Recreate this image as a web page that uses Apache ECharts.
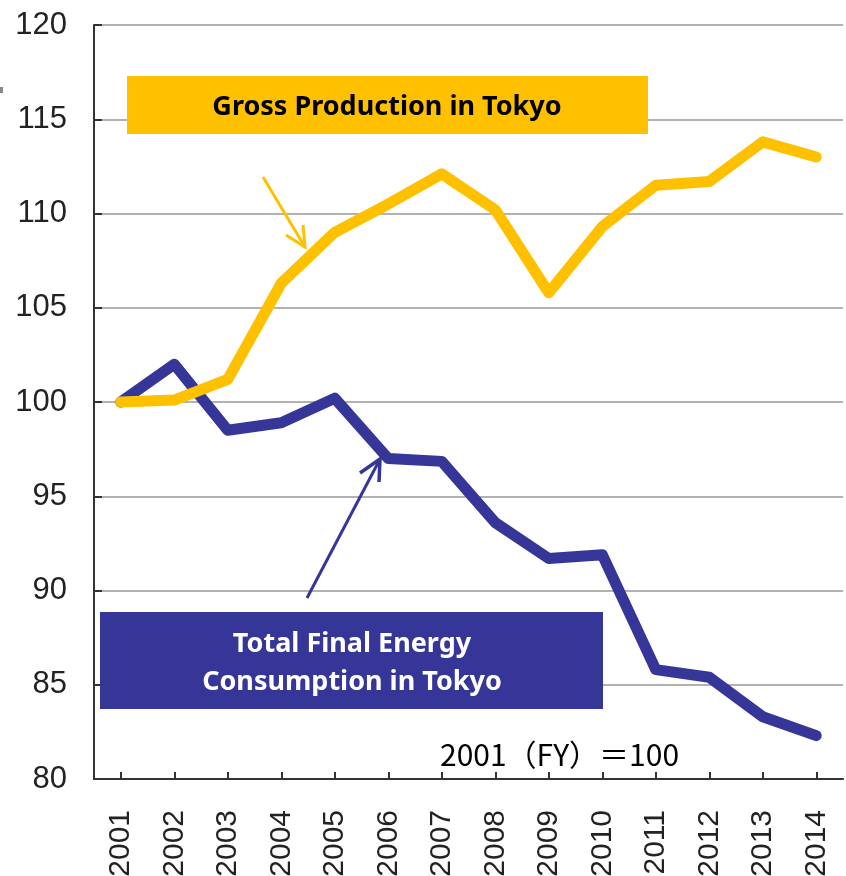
<!DOCTYPE html>
<html>
<head>
<meta charset="utf-8">
<style>
    html, body { margin: 0; padding: 0; background: #fff; }
    #main { width: 846px; height: 876px; }
</style>
<script src="https://cdn.jsdelivr.net/npm/echarts@6/dist/echarts.min.js"></script>
</head>
<body>
<div id="main"></div>
<script>
    // 年度
    var years = ['2001', '2002', '2003', '2004', '2005', '2006', '2007',
        '2008', '2009', '2010', '2011', '2012', '2013', '2014'];
    // 都内総生産 (2001=100)
    var grossProduction = [100, 100.1, 101.2, 106.3, 109.0, 110.5, 112.1,
        110.2, 105.8, 109.3, 111.5, 111.7, 113.8, 113.0];
    // 最終エネルギー消費 (2001=100)
    var energyConsumption = [100, 102.0, 98.5, 98.9, 100.2, 97.0, 96.85,
        93.6, 91.7, 91.9, 85.8, 85.4, 83.3, 82.3];
    var yTicks = [80, 85, 90, 95, 100, 105, 110, 115, 120];

    var yellow = '#FFC000', navy = '#363699';
    var numFont = '"Liberation Sans Narrow", "Liberation Sans", sans-serif';

    var myChart = echarts.init(document.getElementById('main'));
    var opt = {
        animation: false,
        grid: { left: 94, right: 3, top: 25, bottom: 97, outerBoundsMode: 'none', containLabel: false },
        xAxis: {
            type: 'category',
            data: years,
            boundaryGap: true,
            axisLine: { lineStyle: { color: '#333', width: 2 } },
            axisTick: { show: true, alignWithLabel: true, inside: true, length: 7,
                lineStyle: { color: '#333', width: 2 } },
            axisLabel: { rotate: 90, margin: 31, fontSize: 30, color: '#222', fontFamily: numFont }
        },
        yAxis: {
            type: 'value',
            min: yTicks[0],
            max: yTicks[yTicks.length - 1],
            interval: 5,
            axisLine: { show: true, lineStyle: { color: '#333', width: 2 } },
            axisTick: { show: true, inside: true, length: 8, lineStyle: { color: '#333', width: 2 } },
            splitLine: { lineStyle: { color: '#999', width: 1.5 } },
            axisLabel: { margin: 27, fontSize: 31, color: '#222', fontFamily: numFont }
        },
        series: [
            {
                name: 'Total Final Energy Consumption in Tokyo',
                type: 'line',
                data: energyConsumption,
                symbol: 'none',
                lineStyle: { color: navy, width: 11, cap: 'round', join: 'round' },
                z: 3
            },
            {
                name: 'Gross Production in Tokyo',
                type: 'line',
                data: grossProduction,
                symbol: 'none',
                lineStyle: { color: yellow, width: 11, cap: 'round', join: 'round' },
                z: 4
            }
        ],
        graphic: [
            // 注釈ボックス
            { type: 'rect', z: 100, shape: { x: 127, y: 76, width: 521, height: 58 }, style: { fill: yellow } },
            { type: 'text', z: 101, x: 387, y: 107, style: {
                text: 'Gross Production in Tokyo', fill: '#000', align: 'center', verticalAlign: 'middle',
                font: 'bold 27px "Noto Sans", sans-serif' } },
            { type: 'rect', z: 100, shape: { x: 100, y: 612, width: 503, height: 97 }, style: { fill: navy } },
            { type: 'text', z: 101, x: 352, y: 663, style: {
                text: 'Total Final Energy\nConsumption in Tokyo', fill: '#fff', align: 'center',
                verticalAlign: 'middle', lineHeight: 38,
                font: 'bold 27px "Noto Sans", sans-serif' } },
            // 矢印
            { type: 'line', z: 100, shape: { x1: 263, y1: 177, x2: 305, y2: 247 },
                style: { stroke: yellow, lineWidth: 3 } },
            { type: 'polyline', z: 100, shape: { points: [[286, 235], [305, 247], [303, 225]] },
                style: { stroke: yellow, lineWidth: 3, fill: null } },
            { type: 'line', z: 100, shape: { x1: 307, y1: 598, x2: 379, y2: 461 },
                style: { stroke: navy, lineWidth: 3 } },
            { type: 'polyline', z: 100, shape: { points: [[360, 473], [380, 459], [379, 482]] },
                style: { stroke: navy, lineWidth: 3.5, fill: null } },
            { type: 'text', z: 101, x: 440, y: 755, style: {
                text: '2001（FY）＝100', fill: '#000', align: 'left', verticalAlign: 'middle',
                font: '30px "Noto Sans CJK JP", sans-serif' } },
            { type: 'rect', z: 100, shape: { x: 0, y: 87, width: 3, height: 6 }, style: { fill: '#888' } }
        ]
    };
    myChart.setOption(opt);
</script>
</body>
</html>
